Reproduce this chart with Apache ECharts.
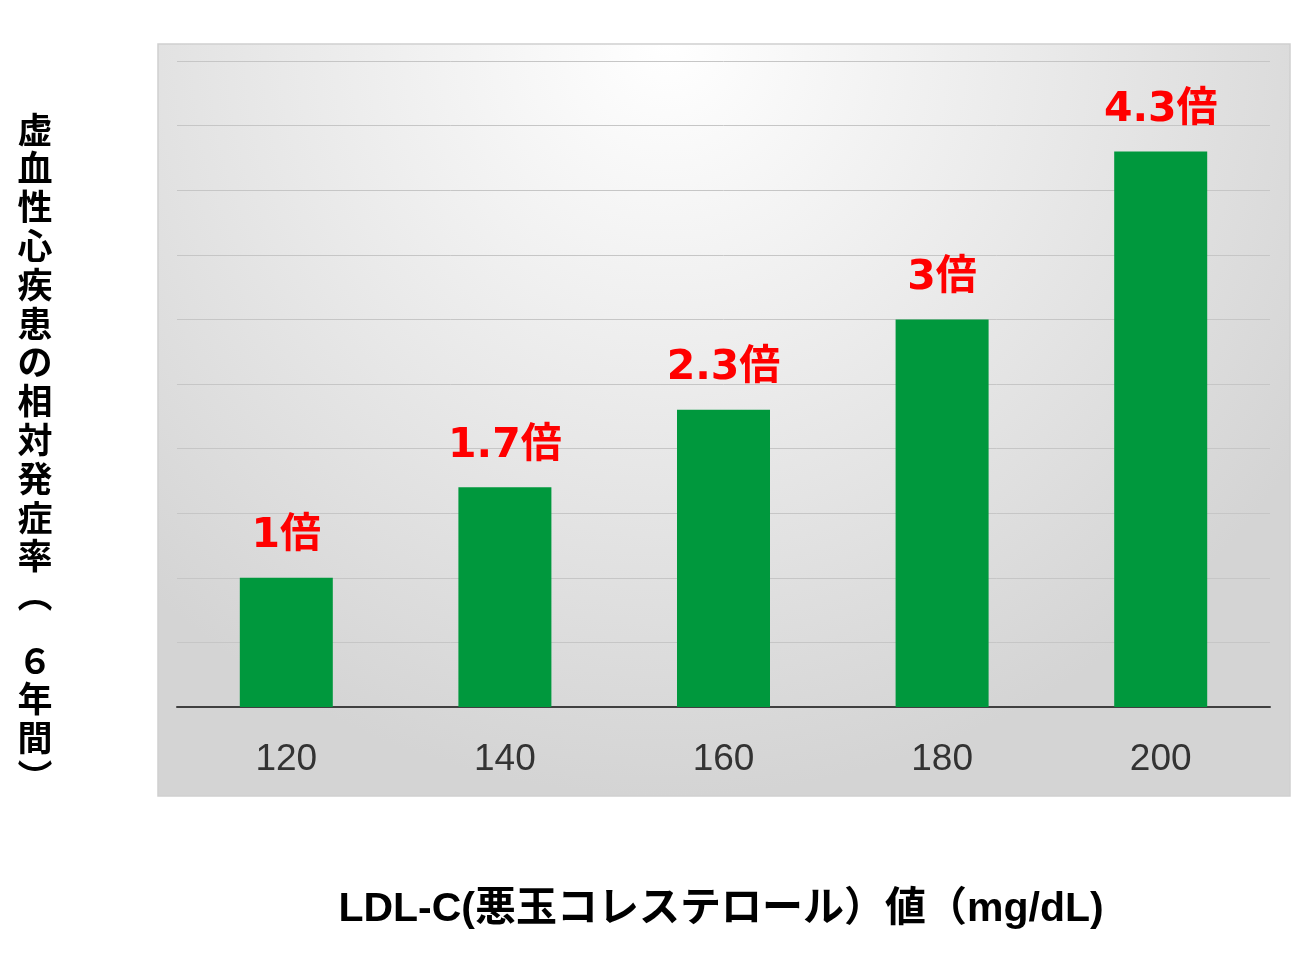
<!DOCTYPE html>
<html>
<head>
<meta charset="utf-8">
<script src="https://cdn.jsdelivr.net/npm/echarts@6/dist/echarts.min.js"></script>
<style>
  html, body { margin: 0; padding: 0; background: #ffffff; }
  #main { width: 1298px; height: 953px; }
</style>
</head>
<body>
<div id="main"></div>
<script>
// LDL-C 値 (mg/dL)
const categories = ['120', '140', '160', '180', '200'];
// 相対発症率 (倍)
const ratios = [1, 1.7, 2.3, 3, 4.3];

// 縦書きタイトル（６の前に少し空きがあるので2つに分ける）
const yTitleTop = '虚血性心疾患の相対発症率︵';
const yTitleBottom = '６年間︶';
const xTitle = 'LDL-C(悪玉コレステロール）値（mg/dL)';

const jpFont = '"Noto Sans CJK JP", sans-serif';
const latinFont = '"Liberation Sans", "Noto Sans CJK JP", sans-serif';

const chart = echarts.init(document.getElementById('main'));

const vText = (str, top) => ({
  type: 'text',
  x: 35,
  y: top,
  style: {
    text: str.split('').join('\n'),
    font: 'bold 35px ' + jpFont,
    lineHeight: 38.8,
    fill: '#000000',
    align: 'center',
    verticalAlign: 'top'
  }
});

const option = {
  animation: false,
  backgroundColor: '#ffffff',
  graphic: [
    {
      // 灰色の背景パネル
      type: 'rect',
      z: -10,
      shape: { x: 158, y: 44, width: 1132, height: 752 },
      style: {
        fill: {
          type: 'radial', x: 0.45, y: 0, r: 1,
          colorStops: [
            { offset: 0, color: '#ffffff' },
            { offset: 1, color: '#d4d4d4' }
          ]
        },
        stroke: '#cfcfcf',
        lineWidth: 1.5
      }
    },
    vText(yTitleTop, 110),
    vText(yTitleBottom, 641),
    {
      type: 'text',
      x: 721,
      y: 910,
      style: {
        text: xTitle,
        font: 'bold 41px ' + latinFont,
        fill: '#000000',
        align: 'center',
        verticalAlign: 'middle'
      }
    }
  ],
  grid: {
    left: 177,
    right: 28,
    top: 61,
    bottom: 246
  },
  xAxis: {
    type: 'category',
    data: categories,
    axisTick: { show: false },
    axisLine: { lineStyle: { color: '#404040', width: 2 } },
    axisLabel: {
      color: '#333333',
      fontSize: 37,
      margin: 34,
      fontFamily: latinFont
    }
  },
  yAxis: {
    type: 'value',
    min: 0,
    max: 5,
    interval: 0.5,
    axisLabel: { show: false },
    axisLine: { show: false },
    axisTick: { show: false },
    splitLine: { lineStyle: { color: '#c6c6c6', width: 1 } }
  },
  series: [
    {
      type: 'bar',
      data: ratios,
      barWidth: 93,
      itemStyle: { color: '#00983d' },
      label: {
        show: true,
        position: 'top',
        distance: 21,
        color: '#ff0000',
        fontSize: 41,
        fontWeight: 'bold',
        fontFamily: '"DejaVu Sans", "Noto Sans CJK JP", sans-serif',
        formatter: p => p.value + '倍'
      }
    }
  ]
};

chart.setOption(option);
</script>
</body>
</html>
